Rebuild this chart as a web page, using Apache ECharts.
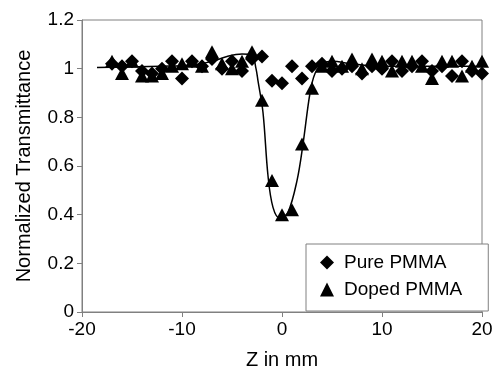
<!DOCTYPE html>
<html>
<head>
<meta charset="utf-8">
<script src="https://cdn.jsdelivr.net/npm/echarts@6/dist/echarts.min.js"></script>
<style>html,body{margin:0;padding:0;background:#fff}#c{width:494px;height:367px}</style>
</head>
<body>
<div id="c"></div>
<script>
const zPos = [-17,-16,-15,-14,-13,-12,-11,-10,-9,-8,-7,-6,-5,-4,-3,-2,-1,0,1,2,3,4,5,6,7,8,9,10,11,12,13,14,15,16,17,18,19,20];
const purePMMA = [1.02,1.01,1.03,0.99,0.98,1.00,1.03,0.96,1.03,1.01,1.04,1.00,1.03,0.99,1.04,1.05,0.95,0.94,1.01,0.96,1.01,1.02,0.99,1.00,1.01,0.98,1.01,1.00,1.03,0.99,1.01,1.03,0.99,1.01,0.97,1.03,0.99,0.98];
const dopedPMMA = [1.03,0.98,1.03,0.97,0.97,0.98,1.01,1.02,1.03,1.01,1.07,1.02,1.00,1.03,1.07,0.87,0.54,0.40,0.42,0.69,0.92,1.01,1.03,1.01,1.04,1.00,1.04,1.03,0.99,1.03,1.03,1.01,0.96,1.03,1.03,0.97,1.01,1.03];
const fitZ = [-18.5,-12,-9,-7,-5.5,-4,-3,-2.6,-2.4,-1.9,-1.4,-0.9,-0.2,0.6,1.5,2.1,2.8,3.3,4,5,7,10,20.5];
const fitT = [1.005,1.01,1.015,1.03,1.05,1.06,1.055,1.0,0.95,0.82,0.56,0.43,0.385,0.41,0.54,0.69,0.90,0.98,1.02,1.03,1.02,1.01,1.01];
const xTicks = {min:-20, max:20, interval:10};
const yTicks = {min:0, max:1.2, interval:0.2};

const chart = echarts.init(document.getElementById('c'), null, {renderer:'canvas'});
const font = 'Liberation Sans, Arial, sans-serif';
chart.setOption({
  animation:false,
  backgroundColor:'#fff',
  grid:{left:82, right:12, top:20, bottom:55, containLabel:false, outerBoundsMode:'none',
    show:true, borderColor:'#808080', borderWidth:1},
  xAxis:{type:'value', min:xTicks.min, max:xTicks.max, interval:xTicks.interval,
    name:'Z in mm', nameLocation:'middle', nameGap:38,
    nameTextStyle:{fontFamily:font, fontSize:20, color:'#000'},
    axisLine:{show:true, onZero:false, lineStyle:{color:'#808080', width:1}},
    axisTick:{show:true, inside:false, length:5, lineStyle:{color:'#808080'}},
    axisLabel:{fontFamily:font, fontSize:19, color:'#000', margin:8},
    splitLine:{show:false}},
  yAxis:{type:'value', min:yTicks.min, max:yTicks.max, interval:yTicks.interval,
    name:'Normalized Transmittance', nameLocation:'middle', nameGap:48,
    nameTextStyle:{fontFamily:font, fontSize:20, color:'#000'},
    axisLine:{show:true, onZero:false, lineStyle:{color:'#808080', width:1}},
    axisTick:{show:true, length:5, lineStyle:{color:'#808080'}},
    axisLabel:{fontFamily:font, fontSize:19, color:'#000', margin:8},
    splitLine:{show:false}},
  legend:{orient:'vertical', left:306, top:244,
    padding:[9,26,12,14], itemGap:8, itemWidth:14, itemHeight:14,
    backgroundColor:'#fff', borderColor:'#808080', borderWidth:1,
    textStyle:{fontFamily:font, fontSize:19, color:'#000', padding:[0,0,0,5]},
    data:['Pure PMMA','Doped PMMA']},
  series:[
    {name:'fit', type:'line', data:fitZ.map((z,i)=>[z,fitT[i]]), smooth:0.35, symbol:'none',
      lineStyle:{color:'#000', width:1.5}, z:1},
    {name:'Pure PMMA', type:'scatter', symbol:'diamond', symbolSize:14,
      itemStyle:{color:'#000', opacity:1}, data:zPos.map((z,i)=>[z,purePMMA[i]]), z:3},
    {name:'Doped PMMA', type:'scatter', symbol:'triangle', symbolSize:[14,13],
      itemStyle:{color:'#000', opacity:1}, data:zPos.map((z,i)=>[z,dopedPMMA[i]]), z:3}
  ]
});
</script>
</body>
</html>
